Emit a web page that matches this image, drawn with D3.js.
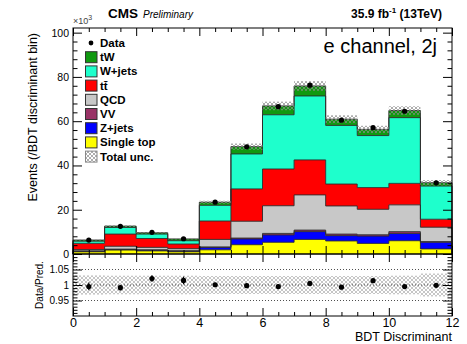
<!DOCTYPE html>
<html><head><meta charset="utf-8">
<script src="https://cdn.jsdelivr.net/npm/d3@7"></script>
<style>
body{margin:0;background:#fff}
svg{display:block}
text{font-family:"Liberation Sans",Arial,Helvetica,sans-serif;fill:#000}
</style>
</head><body>
<svg id="chart" width="467" height="344"></svg>
<script>
// BDT discriminant bins (e channel, 2 jets), yields in units of 10^3 events
const binEdges = [0,1,2,3,4,5,6,7,8,9,10,11,12];
const singleTop = [1.0, 1.8, 1.4, 1.0, 1.9, 4.2, 5.3, 6.6, 5.9, 4.8, 6.0, 2.3];
const zJets     = [0.2, 0.2, 0.3, 0.2, 1.0, 2.6, 3.3, 3.5, 2.4, 3.3, 3.3, 3.0];
const vv        = [0.2, 0.2, 0.2, 0.3, 0.3, 0.4, 0.7, 0.7, 0.7, 0.6, 0.8, 0.3];
const qcd       = [0.6, 1.3, 1.1, 0.9, 3.4, 7.6, 12.5, 15.9, 12.7, 11.5, 12.1, 6.5];
const ttbar     = [2.8, 5.5, 4.0, 2.1, 8.3, 14.6, 16.6, 15.8, 9.9, 9.8, 9.7, 3.6];
const wJets     = [1.0, 3.0, 2.0, 1.5, 7.1, 15.8, 24.5, 28.9, 26.5, 23.5, 29.7, 15.0];
const tW        = [0.5, 0.6, 0.6, 0.8, 1.4, 3.3, 4.0, 4.5, 2.8, 2.8, 3.2, 1.5];
const dataYield = [6.27, 12.49, 9.80, 6.90, 23.42, 48.40, 66.57, 76.28, 60.47, 57.09, 64.48, 32.17];
// relative total uncertainty of the prediction per bin
const relUnc    = [0.031, 0.030, 0.030, 0.030, 0.029, 0.029, 0.029, 0.029, 0.029, 0.029, 0.030, 0.037];

const xTickLabels = [0,2,4,6,8,10,12];
const yTickLabels = [0,20,40,60,80,100];
const ratioTickLabels = [0.95,1,1.05];

// stacking order, bottom to top
const procNames  = ["Single top","Z+jets","VV","QCD","ttbar","W+jets","tW"];
const procValues = [singleTop, zJets, vv, qcd, ttbar, wJets, tW];
const procColors = ["#ffff00","#0000ff","#993366","#c8c8c8","#ff0000","#1effcc","#109910"];
// legend order, top to bottom
const legendEntries = [
  {label:"Data", type:"data"},
  {label:"tW", key:"tW"},
  {label:"W+jets", key:"W+jets"},
  {label:"tt\u0304", key:"ttbar"},
  {label:"QCD", key:"QCD"},
  {label:"VV", key:"VV"},
  {label:"Z+jets", key:"Z+jets"},
  {label:"Single top", key:"Single top"},
  {label:"Total unc.", type:"unc"}
];

const svg = d3.select("#chart");
const x  = d3.scaleLinear().domain([0,12]).range([73,452]);
const y  = d3.scaleLinear().domain([0,102.1]).range([254,28]);
const yr = d3.scaleLinear().domain([0.9,1.1]).range([316,254]);

const nb = binEdges.length - 1;
const rows = d3.range(nb).map(i => {
  const r = {bin:i};
  procNames.forEach((p,k) => r[p] = procValues[k][i]);
  return r;
});
const series = d3.stack().keys(procNames)(rows);
const totals = rows.map((r,i) => d3.sum(procNames, p => r[p]));

// hatch patterns
const defs = svg.append("defs");
function hatch(id, color, w, bg){
  const p = defs.append("pattern").attr("id",id).attr("patternUnits","userSpaceOnUse")
    .attr("width",4).attr("height",4);
  if (bg) p.append("rect").attr("width",4).attr("height",4).attr("fill",bg);
  p.append("path").attr("d","M0,0L4,4M4,0L0,4").attr("stroke",color).attr("stroke-width",w);
}
hatch("uncMain","#8a8a8a",0.7,null);
hatch("uncRatio","#a0a0a0",0.6,null);
hatch("uncLegend","#8a8a8a",0.7,"#fff");

// stacked step histograms
const stepPts = (lo, hi) => {
  const pts = [];
  for (let i=0;i<nb;i++){ pts.push([binEdges[i], lo[i], hi[i]]); pts.push([binEdges[i+1], lo[i], hi[i]]); }
  return pts;
};
const area = d3.area().x(d=>x(d[0])).y0(d=>y(d[1])).y1(d=>y(d[2])).curve(d3.curveLinear);
const gStack = svg.append("g");
series.forEach((s,k) => {
  const lo = s.map(d=>d[0]), hi = s.map(d=>d[1]);
  gStack.append("path").attr("d", area(stepPts(lo,hi)))
    .attr("fill", procColors[k]).attr("stroke","none");
});
// outline of each cumulative histogram
series.forEach((s,k) => {
  const hi = s.map(d=>d[1]);
  let d = `M${x(0)},${y(0)}`;
  for (let i=0;i<nb;i++) d += `L${x(binEdges[i])},${y(hi[i])}L${x(binEdges[i+1])},${y(hi[i])}`;
  d += `L${x(12)},${y(0)}`;
  gStack.append("path").attr("d", d).attr("fill","none").attr("stroke","#2a2a2a").attr("stroke-width",0.9);
});

// total uncertainty band on the stack
svg.append("g").selectAll("rect").data(totals).join("rect")
  .attr("x",(d,i)=>x(binEdges[i])).attr("width",(d,i)=>x(binEdges[i+1])-x(binEdges[i]))
  .attr("y",(d,i)=>y(d*(1+relUnc[i]))).attr("height",(d,i)=>y(d*(1-relUnc[i]))-y(d*(1+relUnc[i])))
  .attr("fill","url(#uncMain)");

// data points
const centers = d3.range(nb).map(i => (binEdges[i]+binEdges[i+1])/2);
const gData = svg.append("g");
dataYield.forEach((v,i) => {
  const e = Math.sqrt(v*1000)/1000;
  gData.append("line").attr("x1",x(centers[i])).attr("x2",x(centers[i]))
    .attr("y1",y(v-e)).attr("y2",y(v+e)).attr("stroke","#000").attr("stroke-width",1);
  gData.append("circle").attr("cx",x(centers[i])).attr("cy",y(v)).attr("r",2.6).attr("fill","#000");
});

// ratio panel
const gR = svg.append("g");
gR.selectAll("rect.band").data(relUnc).join("rect").attr("class","band")
  .attr("x",(d,i)=>x(binEdges[i])).attr("width",(d,i)=>x(binEdges[i+1])-x(binEdges[i]))
  .attr("y",d=>yr(1+d)).attr("height",d=>yr(1-d)-yr(1+d))
  .attr("fill","url(#uncRatio)");
ratioTickLabels.forEach(v => {
  gR.append("line").attr("x1",x(0)).attr("x2",x(12)).attr("y1",yr(v)).attr("y2",yr(v))
    .attr("stroke","#222").attr("stroke-width",0.8).attr("stroke-dasharray","1,2");
});
dataYield.forEach((v,i) => {
  const r = v/totals[i];
  const e = r/Math.sqrt(v*1000);
  gR.append("line").attr("x1",x(centers[i])).attr("x2",x(centers[i]))
    .attr("y1",yr(r-e)).attr("y2",yr(r+e)).attr("stroke","#000").attr("stroke-width",1.2);
  gR.append("circle").attr("cx",x(centers[i])).attr("cy",yr(r)).attr("r",2.6).attr("fill","#000");
});

// axes: ticks point inwards on all four sides of each pad
function ticks(g, scale, orient, values, size, labels, fmt, fontSize, pad){
  const ax = (orient==="left"?d3.axisLeft:orient==="right"?d3.axisRight:orient==="top"?d3.axisTop:d3.axisBottom)(scale)
    .tickValues(values).tickSize(-size).tickPadding(pad||3);
  if (!labels) ax.tickFormat("");
  else if (fmt) ax.tickFormat(fmt);
  g.call(ax);
  g.select(".domain").remove();
  g.selectAll(".tick line").attr("stroke","#000").attr("stroke-width",1);
  g.selectAll(".tick text").attr("font-size",fontSize||10.5).attr("fill","#000")
    .attr("font-family",'"Liberation Sans",Arial,sans-serif');
}
const yMinor = d3.range(0,102.1,4).filter(v => v%20!==0);
const xMinor = d3.range(0,12.01,0.5).filter(v => v%2!==0);
// main pad
ticks(svg.append("g").attr("transform",`translate(${x(0)},0)`), y, "left", yTickLabels, 9, true, d3.format("d"), 10.5, 4);
ticks(svg.append("g").attr("transform",`translate(${x(0)},0)`), y, "left", yMinor, 4.5, false);
ticks(svg.append("g").attr("transform",`translate(${x(12)},0)`), y, "right", yTickLabels, 9, false);
ticks(svg.append("g").attr("transform",`translate(${x(12)},0)`), y, "right", yMinor, 4.5, false);
ticks(svg.append("g").attr("transform",`translate(0,${y(0)})`), x, "bottom", xTickLabels, 8, false);
ticks(svg.append("g").attr("transform",`translate(0,${y(0)})`), x, "bottom", xMinor, 4, false);
ticks(svg.append("g").attr("transform",`translate(0,${y.range()[1]})`), x, "top", xTickLabels, 8, false);
ticks(svg.append("g").attr("transform",`translate(0,${y.range()[1]})`), x, "top", xMinor, 4, false);
// ratio pad
const rMinor = d3.range(0.91,1.095,0.01).map(v=>+v.toFixed(2)).filter(v => !ratioTickLabels.includes(v));
ticks(svg.append("g").attr("transform",`translate(${x(0)},0)`), yr, "left", ratioTickLabels, 9, true, d3.format(""), 10, 4);
ticks(svg.append("g").attr("transform",`translate(${x(0)},0)`), yr, "left", rMinor, 4.5, false);
ticks(svg.append("g").attr("transform",`translate(${x(12)},0)`), yr, "right", ratioTickLabels, 9, false);
ticks(svg.append("g").attr("transform",`translate(${x(12)},0)`), yr, "right", rMinor, 4.5, false);
ticks(svg.append("g").attr("transform",`translate(0,${yr(0.9)})`), x, "bottom", xTickLabels, 8, true, d3.format("d"), 12.5, 2);
ticks(svg.append("g").attr("transform",`translate(0,${yr(0.9)})`), x, "bottom", xMinor, 4, false);
ticks(svg.append("g").attr("transform",`translate(0,${yr(1.1)})`), x, "top", xTickLabels, 8, false);
ticks(svg.append("g").attr("transform",`translate(0,${yr(1.1)})`), x, "top", xMinor, 4, false);

// frames
svg.append("rect").attr("x",x(0)).attr("y",y.range()[1]).attr("width",x(12)-x(0)).attr("height",y(0)-y.range()[1])
  .attr("fill","none").attr("stroke","#000").attr("stroke-width",1);
svg.append("rect").attr("x",x(0)).attr("y",yr(1.1)).attr("width",x(12)-x(0)).attr("height",yr(0.9)-yr(1.1))
  .attr("fill","none").attr("stroke","#000").attr("stroke-width",1);

// titles
svg.append("text").attr("x",108).attr("y",18).attr("font-size",13.5).attr("font-weight","bold").text("CMS");
svg.append("text").attr("x",143).attr("y",18).attr("font-size",10).attr("font-style","italic").text("Preliminary");
const lumi = svg.append("text").attr("x",442).attr("y",18).attr("text-anchor","end").attr("font-size",12).attr("font-weight","bold");
lumi.append("tspan").text("35.9 fb");
lumi.append("tspan").attr("font-size",8).attr("dy",-5).text("-1");
lumi.append("tspan").attr("dy",5).text(" (13TeV)");
svg.append("text").attr("x",437).attr("y",53).attr("text-anchor","end").attr("font-size",20).text("e channel, 2j");
const exp = svg.append("text").attr("x",73).attr("y",24).attr("font-size",9).style("fill","#444");
exp.append("tspan").text("\u00d710");
exp.append("tspan").attr("dy",-4).attr("font-size",7).text("3");

// axis titles
svg.append("text").attr("transform","translate(37,33) rotate(-90)").attr("text-anchor","end")
  .attr("font-size",12.5).text("Events (/BDT discriminant bin)");
svg.append("text").attr("transform","translate(43,285) rotate(-90)").attr("text-anchor","middle")
  .attr("font-size",10).text("Data/Pred.");
svg.append("text").attr("x",452).attr("y",340.5).attr("text-anchor","end").attr("font-size",12.5).text("BDT Discriminant");

// legend
const gL = svg.append("g");
legendEntries.forEach((e,i) => {
  const cy = 43 + i*14.2;
  if (e.type==="data") {
    gL.append("circle").attr("cx",91).attr("cy",cy).attr("r",2.4).attr("fill","#000");
  } else {
    const fill = e.type==="unc" ? "url(#uncLegend)" : procColors[procNames.indexOf(e.key)];
    gL.append("rect").attr("x",85.5).attr("y",cy-5.5).attr("width",11.5).attr("height",11)
      .attr("fill",fill).attr("stroke", e.type==="unc" ? "#888" : "#333").attr("stroke-width",1);
  }
  gL.append("text").attr("x",100).attr("y",cy+4).attr("font-size",11.5).attr("font-weight","bold").text(e.label);
});
</script>
</body></html>
